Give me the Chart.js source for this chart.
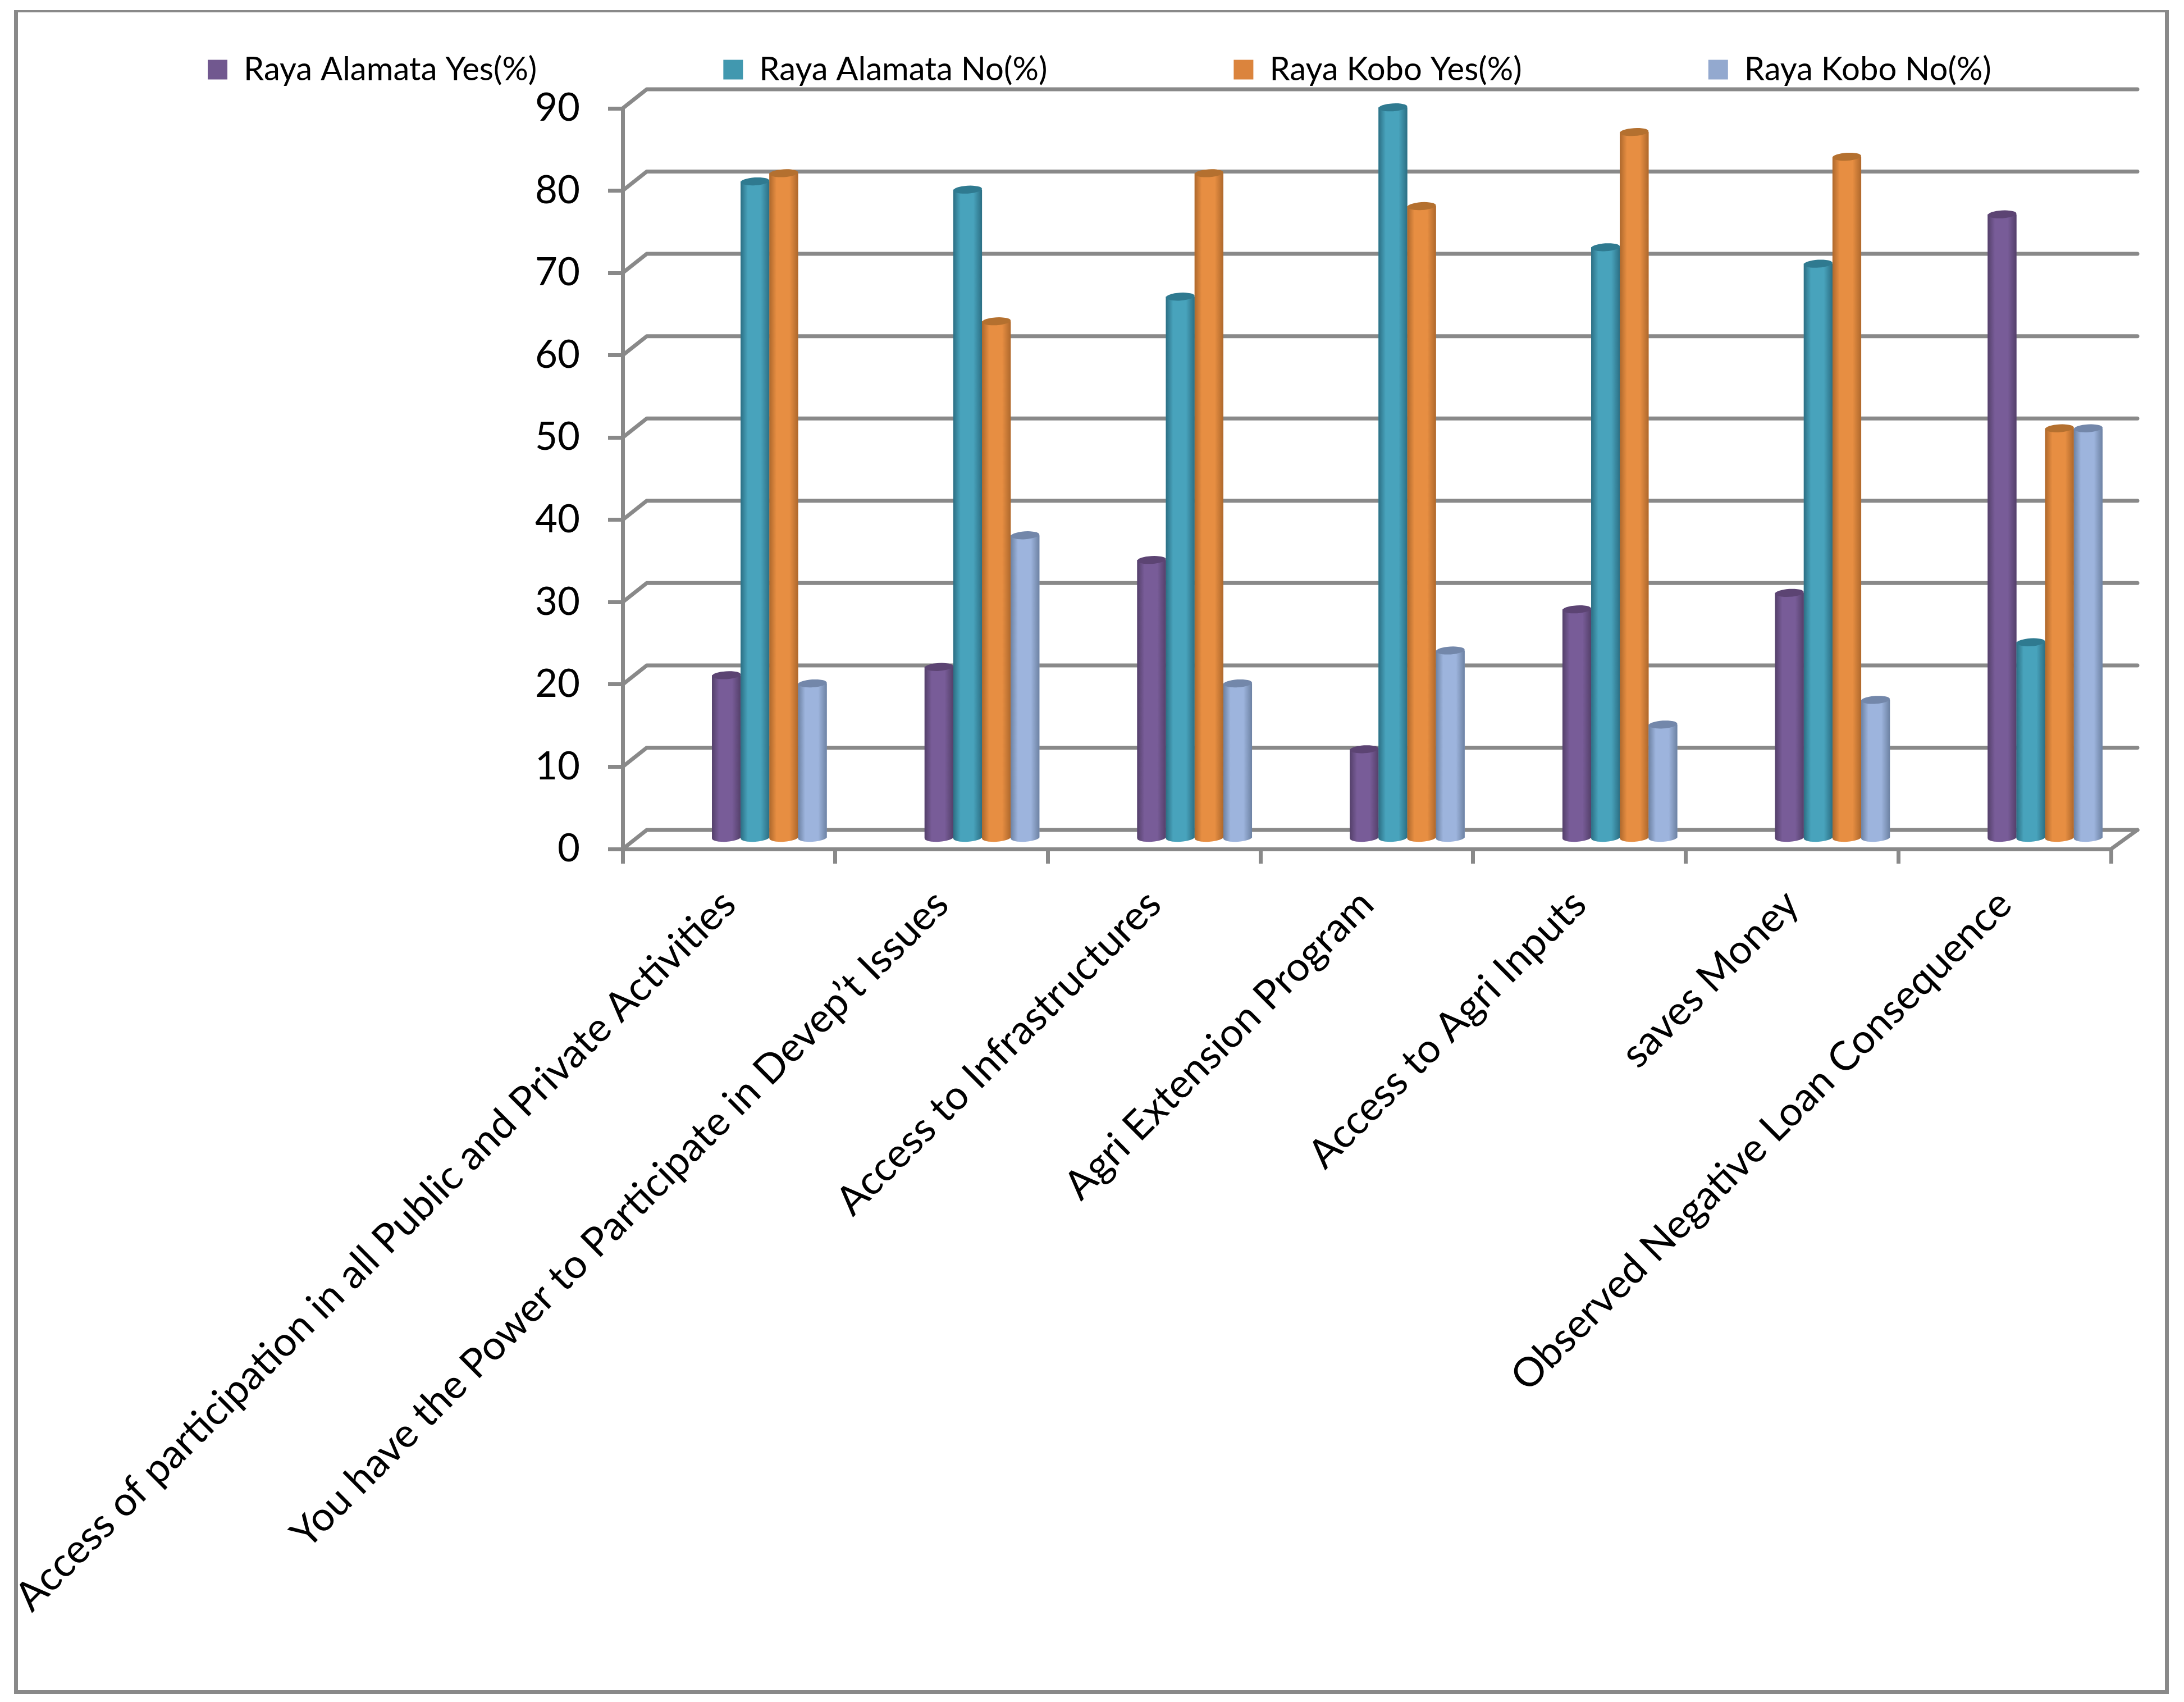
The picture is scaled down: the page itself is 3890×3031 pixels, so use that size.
<!DOCTYPE html>
<html>
  <head>
    <meta charset="utf-8">
    <style>
      html, body { margin: 0; padding: 0; background: #fff; }
      #wrap { width: 3890px; height: 3031px; }
    </style>
  </head>
  <body>
    <div id="wrap"><canvas id="chart"></canvas></div>
    <script src="https://cdn.jsdelivr.net/npm/chart.js@4"></script>
    <script>
const categories = [
  "Access of participation in all Public and Private Activities",
  "You have the Power to Participate in Devep’t Issues",
  "Access to Infrastructures",
  "Agri Extension Program",
  "Access to Agri Inputs",
  "saves Money",
  "Observed Negative Loan Consequence"
];
const alamataYes = [20, 21, 34, 11, 28, 30, 76];
const alamataNo = [80, 79, 66, 89, 72, 70, 24];
const koboYes = [81, 63, 81, 77, 86, 83, 50];
const koboNo = [19, 37, 19, 23, 14, 17, 50];

const GREY = "#898989";
const LINE_W = 7;
// back wall offset of the fake 3D box
const DEPTH_LEFT = 43;
const DEPTH_RIGHT = 47;
const DEPTH_Y = 34;
// bars stand part way into the box
const BAR_SHIFT_X = 72;
const BAR_SHIFT_Y = 16.5;
const LEGEND_X = 370;
const LEGEND_Y = 124;

// [legend colour, shaded edge, lit middle, top cap]
const shades = [
  ["#71588f", "#54406a", "#785c98", "#5c4473"],
  ["#4198af", "#2c6f84", "#48a3bc", "#2f7a90"],
  ["#db843d", "#ae682c", "#e78e42", "#b4702f"],
  ["#93a9cf", "#6d82a3", "#9db4dd", "#7387aa"]
];

function makeSet(label, values, i) {
  return {
    label: label,
    data: values,
    backgroundColor: shades[i][0],
    borderWidth: 0,
    clip: false,
    categoryPercentage: 0.54,
    barPercentage: 1
  };
}

// walls: back grid lines and the little diagonals
const wallPlugin = {
  id: "wall",
  beforeDraw(chart) {
    var ctx = chart.ctx;
    // outer frame, top edge is thinner in the original
    ctx.save();
    ctx.fillStyle = GREY;
    ctx.fillRect(25, 18, 3838, 4);
    ctx.fillRect(25, 18, 7, 2999);
    ctx.fillRect(3856, 18, 7, 2999);
    ctx.fillRect(25, 3010, 3838, 7);
    ctx.restore();
  },
  beforeDatasetsDraw(chart) {
    var ctx = chart.ctx, a = chart.chartArea, y = chart.scales.y;
    ctx.save();
    ctx.strokeStyle = GREY;
    ctx.lineWidth = LINE_W;
    ctx.lineJoin = "round";
    ctx.lineCap = "round";
    y.ticks.forEach(t => {
      var py = y.getPixelForValue(t.value);
      ctx.beginPath();
      ctx.moveTo(a.left, py);
      ctx.lineTo(a.left + DEPTH_LEFT, py - DEPTH_Y);
      ctx.lineTo(a.right + DEPTH_RIGHT, py - DEPTH_Y);
      ctx.stroke();
    });
    ctx.beginPath();
    ctx.moveTo(a.right, a.bottom);
    ctx.lineTo(a.right + DEPTH_RIGHT, a.bottom - DEPTH_Y);
    ctx.stroke();
    ctx.restore();
    // library bars get pushed into the box as well
    ctx.save();
    ctx.translate(BAR_SHIFT_X, -BAR_SHIFT_Y);
  },
  afterDatasetsDraw(chart) {
    var ctx = chart.ctx;
    chart.data.datasets.forEach((ds, i) => {
      chart.getDatasetMeta(i).data.forEach(bar => {
        var p = bar.getProps(["x", "y", "base", "width"], true);
        var l = p.x - p.width / 2, r = p.x + p.width / 2;
        var g = ctx.createLinearGradient(l, 0, r, 0);
        g.addColorStop(0, shades[i][1]);
        g.addColorStop(0.25, shades[i][2]);
        g.addColorStop(0.7, shades[i][2]);
        g.addColorStop(1, shades[i][1]);
        ctx.fillStyle = g;
        ctx.beginPath();
        ctx.moveTo(l, p.y);
        ctx.lineTo(l, p.base);
        ctx.ellipse(p.x, p.base, p.width / 2, 7, -0.06, Math.PI, 0, true);
        ctx.lineTo(r, p.y);
        ctx.closePath();
        ctx.fill();
        ctx.fillStyle = shades[i][3];
        ctx.beginPath();
        ctx.ellipse(p.x, p.y, p.width / 2, 7, -0.06, 0, Math.PI * 2);
        ctx.fill();
      });
    });
    ctx.restore();
  }
};

// the legend gaps are wide, so its padding would push it far down: pull it back up
const legendPlugin = {
  id: "legendUp",
  afterLayout(chart) {
    var l = chart.legend;
    var pad = chart.options.plugins.legend.labels.padding;
    var start = (l.left + pad + l.right - l.lineWidths[0]) / 2;
    l.left += LEGEND_X - start;
    l.right += LEGEND_X - start;
    l.top = LEGEND_Y - 29 - pad;
  }
};

new Chart(document.getElementById("chart"), {
  type: "bar",
  data: {
    labels: categories,
    datasets: [
      makeSet("Raya Alamata Yes(%)", alamataYes, 0),
      makeSet("Raya Alamata No(%)", alamataNo, 1),
      makeSet("Raya Kobo Yes(%)", koboYes, 2),
      makeSet("Raya Kobo No(%)", koboNo, 3)
    ]
  },
  options: {
    responsive: true,
    maintainAspectRatio: false,
    animation: false,
    devicePixelRatio: 1,
    // left and right cancel out so the legend still gets the full width for its row
    layout: { padding: { top: -207, right: 130, bottom: 0, left: -130 } },
    plugins: {
      tooltip: { enabled: false },
      legend: {
        display: true,
        position: "top",
        labels: {
          color: "#000",
          boxWidth: 35,
          boxHeight: 35,
          padding: 332,
          font: { family: "Lato", size: 58 }
        }
      }
    },
    scales: {
      x: {
        offset: true,
        afterFit(scale) {
          scale.height = 3031 - 1512;
          scale.paddingLeft = 0;
          scale.paddingRight = 0;
        },
        border: { display: true, color: GREY, width: LINE_W },
        grid: {
          display: true,
          drawOnChartArea: false,
          drawTicks: true,
          tickLength: 26,
          tickWidth: LINE_W,
          tickColor: GREY,
          color: GREY,
          lineWidth: LINE_W
        },
        ticks: {
          color: "#000",
          font: { family: "Lato", size: 72 },
          autoSkip: false,
          minRotation: 45,
          maxRotation: 45,
          padding: 30
        }
      },
      y: {
        min: 0,
        max: 90,
        afterFit(scale) { scale.width = 1109 + 130; },
        border: { display: true, color: GREY, width: LINE_W },
        grid: {
          display: true,
          drawOnChartArea: false,
          drawTicks: true,
          tickLength: 26,
          tickWidth: LINE_W,
          tickColor: GREY,
          color: GREY,
          lineWidth: LINE_W
        },
        ticks: {
          color: "#000",
          stepSize: 10,
          padding: 50,
          font: { family: "Lato", size: 69 }
        }
      }
    }
  },
  plugins: [wallPlugin, legendPlugin]
});
    </script>
  </body>
</html>
